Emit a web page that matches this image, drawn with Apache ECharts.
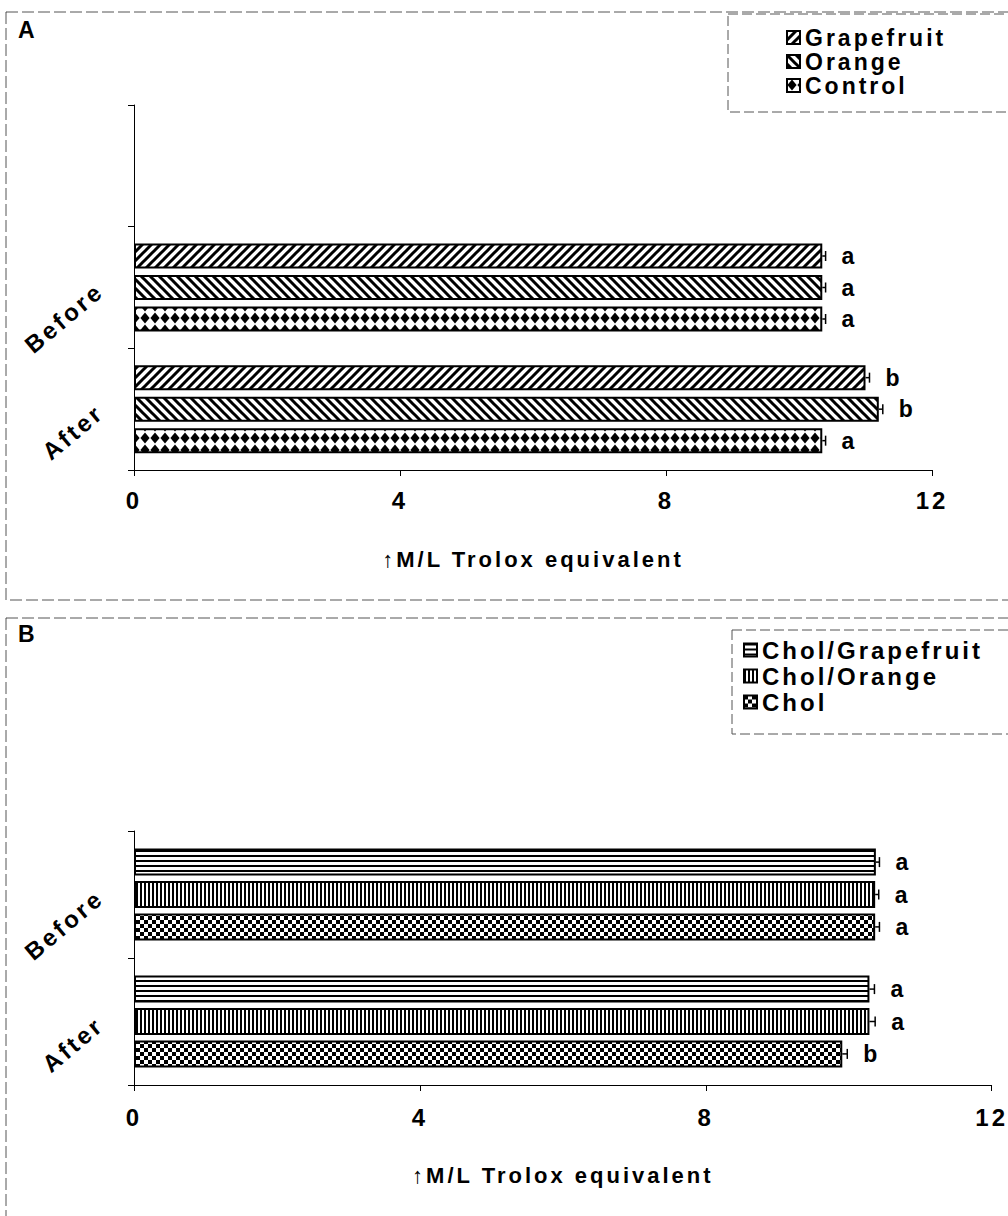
<!DOCTYPE html>
<html><head><meta charset="utf-8">
<script src="https://cdn.jsdelivr.net/npm/echarts@6/dist/echarts.min.js"></script>
<style>
html,body{margin:0;padding:0;background:#fff;}
#chart{width:1008px;height:1216px;}
#chart text{letter-spacing:3px;}
</style></head><body><div id="chart"></div>
<script>
// ---------- DATA ----------
const categoriesA = ['After', 'Before', ''];
const namesA = ['Grapefruit', 'Orange', 'Control'];
const grapefruitA = [11.0, 10.35];
const orangeA = [11.2, 10.35];
const controlA = [10.35, 10.35];
const grapefruitErrA = [0.06, 0.05];
const orangeErrA = [0.06, 0.05];
const controlErrA = [0.05, 0.05];
const grapefruitLettersA = ['b', 'a'];
const orangeLettersA = ['b', 'a'];
const controlLettersA = ['a', 'a'];

const categoriesB = ['After', 'Before'];
const namesB = ['Chol/Grapefruit', 'Chol/Orange', 'Chol'];
const cholGrapefruitB = [10.29, 10.38];
const cholOrangeB = [10.29, 10.37];
const cholB = [9.91, 10.37];
const cholGrapefruitErrB = [0.07, 0.05];
const cholOrangeErrB = [0.08, 0.05];
const cholErrB = [0.07, 0.06];
const cholGrapefruitLettersB = ['a', 'a'];
const cholOrangeLettersB = ['a', 'a'];
const cholLettersB = ['b', 'a'];

const xTicks = [0, 4, 8, 12];
const axisTitle = '\u2191M/L Trolox equivalent';

// ---------- PATTERNS ----------
function makePattern(w, h, draw) {
  const c = document.createElement('canvas');
  c.width = w; c.height = h;
  const g = c.getContext('2d');
  g.fillStyle = '#fff'; g.fillRect(0, 0, w, h);
  g.fillStyle = '#000'; g.strokeStyle = '#000';
  draw(g, w, h);
  return { image: c, repeat: 'repeat' };
}
const patFwd = makePattern(9, 9, (g) => {
  g.lineWidth = 3;
  g.beginPath();
  g.moveTo(-2, 2); g.lineTo(2, -2);
  g.moveTo(0, 9); g.lineTo(9, 0);
  g.moveTo(7, 11); g.lineTo(11, 7);
  g.stroke();
});
const patBack = makePattern(9, 9, (g) => {
  g.lineWidth = 3;
  g.beginPath();
  g.moveTo(0, 0); g.lineTo(9, 9);
  g.moveTo(-2, 7); g.lineTo(2, 11);
  g.moveTo(7, -2); g.lineTo(11, 2);
  g.stroke();
});
const patDiamond = makePattern(10, 12, (g) => {
  g.beginPath();
  g.moveTo(5, 0.5); g.lineTo(9.6, 6); g.lineTo(5, 11.5); g.lineTo(0.4, 6);
  g.closePath(); g.fill();
});
const patHoriz = makePattern(8, 5, (g) => { g.fillRect(0, 0, 8, 2); });
const patVert = makePattern(4, 8, (g) => { g.fillRect(0, 0, 2, 8); });
const patCheck = makePattern(8, 8, (g) => { g.fillRect(0, 0, 4, 4); g.fillRect(4, 4, 4, 4); });

// ---------- HELPERS ----------
const FONT = "'Liberation Sans', Arial, sans-serif";
const chart = echarts.init(document.getElementById('chart'), null, { renderer: 'svg' });

function barSeries(name, data, pattern, axisIdx, barW, gap) {
  return {
    name: name, type: 'bar', xAxisIndex: axisIdx, yAxisIndex: axisIdx,
    data: data, barWidth: barW, barGap: gap,
    itemStyle: { color: pattern, borderColor: '#000', borderWidth: 2 },
    z: 2
  };
}
function errSeries(values, errs, letters, axisIdx, k, n, barW, gap) {
  return {
    type: 'custom', xAxisIndex: axisIdx, yAxisIndex: axisIdx, z: 5,
    encode: { x: 0, y: 1 },
    data: values.map((v, i) => [v, i, errs[i]]),
    renderItem: function (params, api) {
      const v = api.value(0), cat = api.value(1), e = api.value(2);
      const p1 = api.coord([v, cat]);
      const p2 = api.coord([v + e, cat]);
      const total = n * barW + (n - 1) * barW * gap;
      const y = p1[1] - total / 2 + k * barW * (1 + gap) + barW / 2;
      return {
        type: 'group', children: [
          { type: 'line', shape: { x1: p1[0], y1: y, x2: p2[0], y2: y }, style: { stroke: '#000', lineWidth: 1.5 } },
          { type: 'line', shape: { x1: p2[0], y1: y - 5, x2: p2[0], y2: y + 5 }, style: { stroke: '#000', lineWidth: 1.5 } },
          { type: 'text', x: p2[0] + 16, y: y, style: { text: letters[params.dataIndex], font: 'bold 23px ' + FONT, fill: '#000', verticalAlign: 'middle', align: 'left' } }
        ]
      };
    }
  };
}
function xAxis(gridIdx, labelMargin, nameGap) {
  return {
    type: 'value', gridIndex: gridIdx, min: xTicks[0], max: xTicks[xTicks.length - 1], interval: xTicks[1] - xTicks[0],
    axisLine: { show: true, lineStyle: { color: '#000', width: 1 } },
    axisTick: { show: true, length: 6, lineStyle: { color: '#000' } },
    splitLine: { show: false },
    axisLabel: { margin: labelMargin, color: '#000', fontFamily: FONT, fontWeight: 'bold', fontSize: 24 },
    name: axisTitle, nameLocation: 'middle', nameGap: nameGap,
    nameTextStyle: { color: '#000', fontFamily: FONT, fontWeight: 'bold', fontSize: 22 }
  };
}
function yAxis(gridIdx, cats) {
  return {
    type: 'category', gridIndex: gridIdx, data: cats,
    axisLine: { show: true, lineStyle: { color: '#000', width: 1 } },
    axisTick: { show: true, length: 6, lineStyle: { color: '#000' } },
    axisLabel: { rotate: 40, margin: 34, padding: [40, 0, 0, 0], color: '#000', fontFamily: FONT, fontWeight: 'bold', fontSize: 24 }
  };
}

const bwA = 25, gA = 0.26, bwB = 27, gB = 0.2;
const legendTextA = { color: '#000', fontFamily: FONT, fontWeight: 'bold', fontSize: 23, lineHeight: 20 };
const legendTextB = { color: '#000', fontFamily: FONT, fontWeight: 'bold', fontSize: 24, lineHeight: 20 };

const option = {
  animation: false,
  backgroundColor: '#fff',
  grid: [
    { left: 134, top: 105, width: 798, height: 365 },
    { left: 134, top: 831, width: 858, height: 254 }
  ],
  xAxis: [xAxis(0, 18, 78), xAxis(1, 20, 79)],
  yAxis: [yAxis(0, categoriesA), yAxis(1, categoriesB)],
  legend: [
    { data: namesA, orient: 'vertical', left: 786, top: 26, itemWidth: 13, itemHeight: 13, itemGap: 1, icon: 'rect', textStyle: legendTextA, padding: 0 },
    { data: namesB, orient: 'vertical', left: 743, top: 638, itemWidth: 13, itemHeight: 13, itemGap: 2, icon: 'rect', textStyle: legendTextB, padding: 0 }
  ],
  graphic: [
    { type: 'rect', shape: { x: 6, y: 12, width: 1010, height: 588 }, style: { fill: 'none', stroke: '#555', lineWidth: 1, lineDash: [12, 4] }, silent: true },
    { type: 'rect', shape: { x: 6, y: 618, width: 1010, height: 620 }, style: { fill: 'none', stroke: '#555', lineWidth: 1, lineDash: [12, 4] }, silent: true },
    { type: 'rect', shape: { x: 728, y: 14, width: 300, height: 98 }, style: { fill: 'none', stroke: '#555', lineWidth: 1, lineDash: [10, 4] }, silent: true },
    { type: 'rect', shape: { x: 732, y: 630, width: 300, height: 104 }, style: { fill: 'none', stroke: '#555', lineWidth: 1, lineDash: [10, 4] }, silent: true },
    { type: 'text', left: 18, top: 18, style: { text: 'A', font: 'bold 23px ' + FONT, fill: '#000' } },
    { type: 'text', left: 18, top: 622, style: { text: 'B', font: 'bold 23px ' + FONT, fill: '#000' } }
  ],
  series: [
    barSeries(namesA[0], grapefruitA, patFwd, 0, bwA, gA),
    barSeries(namesA[1], orangeA, patBack, 0, bwA, gA),
    barSeries(namesA[2], controlA, patDiamond, 0, bwA, gA),
    errSeries(grapefruitA, grapefruitErrA, grapefruitLettersA, 0, 0, 3, bwA, gA),
    errSeries(orangeA, orangeErrA, orangeLettersA, 0, 1, 3, bwA, gA),
    errSeries(controlA, controlErrA, controlLettersA, 0, 2, 3, bwA, gA),
    barSeries(namesB[0], cholGrapefruitB, patHoriz, 1, bwB, gB),
    barSeries(namesB[1], cholOrangeB, patVert, 1, bwB, gB),
    barSeries(namesB[2], cholB, patCheck, 1, bwB, gB),
    errSeries(cholGrapefruitB, cholGrapefruitErrB, cholGrapefruitLettersB, 1, 0, 3, bwB, gB),
    errSeries(cholOrangeB, cholOrangeErrB, cholOrangeLettersB, 1, 1, 3, bwB, gB),
    errSeries(cholB, cholErrB, cholLettersB, 1, 2, 3, bwB, gB)
  ]
};
chart.setOption(option);
</script></body></html>
